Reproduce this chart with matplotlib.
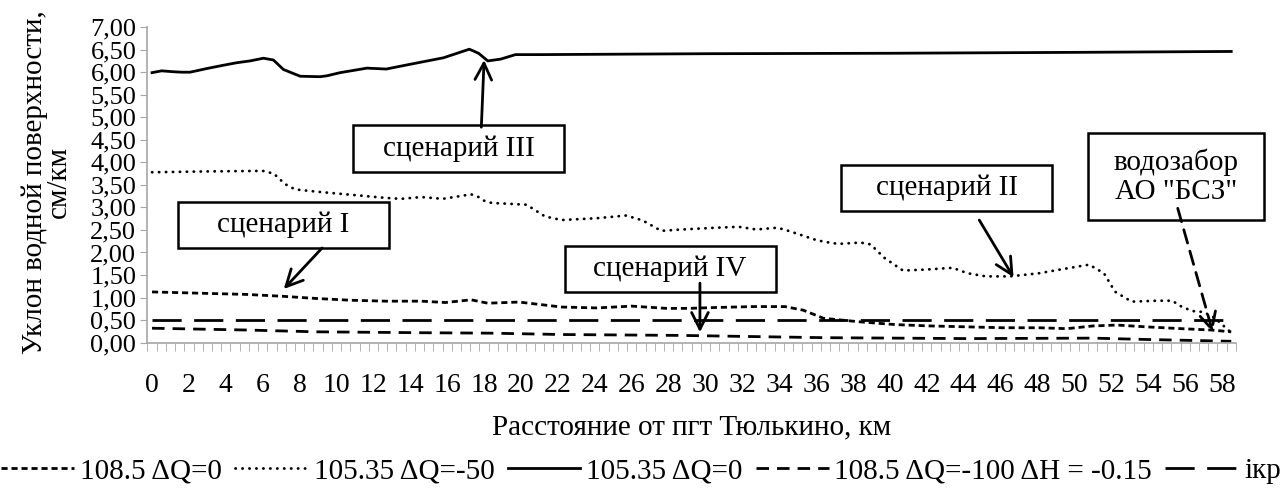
import matplotlib
matplotlib.use("Agg")
import matplotlib.pyplot as plt
import matplotlib.ticker as ticker
from matplotlib.patches import Rectangle
import numpy as np

plt.rcParams["font.family"] = ["Liberation Serif", "DejaVu Serif"]

# 108.5 ΔQ=0 (сценарий I)
km_s1 = [0, 3.2, 5.1, 7.0, 8.9, 10.8, 12.7, 14.6, 15.9, 17.3, 18.2, 19.9, 22.2, 24.1, 26.0,
         27.9, 29.1, 30.6, 32.6, 34.3, 35.3, 36.4, 38.4, 40.3, 42.2, 44.2, 46.1, 48.1, 49.6,
         51.0, 52.3, 53.9, 55.8, 57.4, 58.5]
val_s1 = [1.125, 1.09, 1.07, 1.03, 0.98, 0.94, 0.92, 0.92, 0.89, 0.95, 0.875, 0.90, 0.79, 0.77, 0.81,
          0.76, 0.76, 0.78, 0.80, 0.80, 0.72, 0.54, 0.46, 0.40, 0.37, 0.35, 0.33, 0.33, 0.31,
          0.37, 0.39, 0.35, 0.31, 0.28, 0.24]

# 105.35 ΔQ=-50 (сценарий II)
km_s2 = [0, 3.2, 6.0, 6.6, 7.2, 7.75, 8.9, 10.8, 12.7, 13.5, 14.6, 15.75, 17.3, 17.7, 18.0, 18.4,
         20.3, 21.3, 22.2, 24.1, 25.7, 26.6, 27.6, 28.7, 30.6, 31.8, 32.75, 33.9, 34.5, 35.9,
         36.4, 37.2, 38.4, 38.95, 39.7, 40.7, 41.9, 43.4, 44.2, 45.2, 46.5, 48.1, 49.2, 50.8,
         51.6, 52.2, 53.1, 54.5, 55.3, 55.8, 56.4, 57.0, 57.6, 58.5]
val_s2 = [3.78, 3.80, 3.81, 3.75, 3.52, 3.40, 3.35, 3.28, 3.21, 3.19, 3.23, 3.19, 3.29, 3.23, 3.15, 3.10,
          3.06, 2.80, 2.72, 2.76, 2.82, 2.71, 2.48, 2.51, 2.55, 2.57, 2.51, 2.55, 2.48, 2.29,
          2.24, 2.19, 2.22, 2.18, 1.88, 1.60, 1.62, 1.66, 1.54, 1.47, 1.47, 1.54, 1.62, 1.73,
          1.54, 1.13, 0.91, 0.93, 0.93, 0.80, 0.70, 0.68, 0.55, 0.22]

# 105.35 ΔQ=0 (сценарий III)
km_s3 = [0, 0.52, 1.15, 1.6, 2.06, 2.96, 3.69, 4.59, 5.31, 6.04, 6.58, 7.12, 8.03, 9.11, 9.48,
         10.2, 11.65, 12.7, 13.8, 15.3, 15.8, 17.2, 17.7, 18.2, 18.9, 19.7, 21.1, 30.0, 40.0,
         50.0, 58.5]
val_s3 = [5.99, 6.03, 6.01, 6.00, 6.00, 6.08, 6.14, 6.21, 6.25, 6.31, 6.27, 6.06, 5.91, 5.90, 5.92,
          5.99, 6.09, 6.07, 6.16, 6.28, 6.32, 6.51, 6.42, 6.25, 6.29, 6.39, 6.39, 6.41, 6.42,
          6.44, 6.46]

# 108.5 ΔQ=-100 ΔH = -0.15 (сценарий IV)
km_s4 = [0, 5.1, 8.9, 14.6, 18.4, 22.2, 28.7, 36.4, 44.2, 51.0, 53.9, 56.8, 58.5]
val_s4 = [0.32, 0.28, 0.24, 0.22, 0.21, 0.18, 0.16, 0.11, 0.09, 0.10, 0.07, 0.045, 0.03]

# критический уклон
km_ikr = [0, 58.5]
val_ikr = [0.5, 0.5]

legend_labels = ["108.5 ΔQ=0", "105.35 ΔQ=-50", "105.35 ΔQ=0",
                 "108.5 ΔQ=-100 ΔH = -0.15", "iкр"]

# подписи: текст, рамка (x0, x1, y0, y1), начало и конец стрелки
callouts = [
    ("сценарий III", (10.9, 22.35, 3.78, 4.83), (17.85, 4.78), (18.0, 6.27), "-"),
    ("сценарий I", (1.41, 12.86, 2.10, 3.12), (9.22, 2.10), (7.14, 1.19), "-"),
    ("сценарий IV", (22.36, 33.8, 1.12, 2.14), (29.7, 1.32), (29.7, 0.23), "-"),
    ("сценарий II", (37.35, 48.8, 2.92, 3.94), (44.84, 2.72), (46.7, 1.45), "-"),
    ("водозабор\nАО \"БСЗ\"", (50.76, 60.3, 2.72, 4.65), (55.6, 2.98), (57.5, 0.23), (0, (5, 3))),
]

FS = 21

fig = plt.figure(figsize=(12.82, 4.93), dpi=100)
ax = fig.add_axes([0.115, 0.305, 0.849, 0.64])

lw = 2.0
h1, = ax.plot(km_s1, val_s1, color="black", lw=lw, linestyle=(0, (2.2, 1.4)))
h2, = ax.plot(km_s2, val_s2, color="black", lw=lw, linestyle=(0, (0.1, 2.4)), dash_capstyle="round")
h3, = ax.plot(km_s3, val_s3, color="black", lw=lw)
h4, = ax.plot(km_s4, val_s4, color="black", lw=lw, linestyle=(0, (4.5, 2.9)))
h5, = ax.plot(km_ikr, val_ikr, color="black", lw=lw, linestyle=(0, (10.5, 4.5)))

ax.set_xlim(-0.25, 58.75)
ax.set_ylim(0, 7)

ax.xaxis.set_major_locator(ticker.MultipleLocator(2))
ax.xaxis.set_minor_locator(ticker.FixedLocator(np.arange(-0.25, 58.8, 0.5)))
ax.xaxis.set_major_formatter(ticker.FuncFormatter(lambda v, _: f"{v:.0f}"))
ax.tick_params(axis="x", which="major", length=0, pad=22, labelsize=20)
ax.tick_params(axis="x", which="minor", length=6, color="#a6a6a6", direction="out")

ax.yaxis.set_major_locator(ticker.MultipleLocator(0.5))
ax.yaxis.set_major_formatter(ticker.FuncFormatter(lambda v, _: f"{v:.2f}".replace(".", ",")))
ax.tick_params(axis="y", length=5, color="#a6a6a6", labelsize=19, pad=3)

for side in ("top", "right"):
    ax.spines[side].set_visible(False)
for side in ("left", "bottom"):
    ax.spines[side].set_color("#a6a6a6")
    ax.spines[side].set_linewidth(1.2)

ax.set_ylabel("Уклон водной поверхности,\nсм/км", fontsize=FS, linespacing=0.9)
ax.yaxis.set_label_coords(-0.069, 0.51)
ax.set_xlabel("Расстояние от пгт Тюлькино, км", fontsize=FS, labelpad=12)

for text, (x0, x1, y0, y1), tail, tip, ls in callouts:
    ax.add_patch(Rectangle((x0, y0), x1 - x0, y1 - y0, fc="white", ec="black", lw=1.8,
                           clip_on=False, zorder=5))
    ax.text((x0 + x1) / 2, (y0 + y1) / 2, text, fontsize=FS, ha="center", va="center",
            linespacing=1.15, zorder=6)
    ax.annotate("", xy=tip, xytext=tail, zorder=7, annotation_clip=False,
                arrowprops=dict(arrowstyle="->,head_length=0.8,head_width=0.4", color="black",
                                lw=2, linestyle=ls, shrinkA=0, shrinkB=0, mutation_scale=15))

fig.legend([h1, h2, h3, h4, h5], legend_labels, loc="center", bbox_to_anchor=(0.5, 0.045),
           ncol=5, frameon=False, fontsize=FS, handlelength=2.5, handletextpad=0.2,
           columnspacing=0.45, borderaxespad=0.0, borderpad=0.0)

fig.savefig("out.png", dpi=100)
